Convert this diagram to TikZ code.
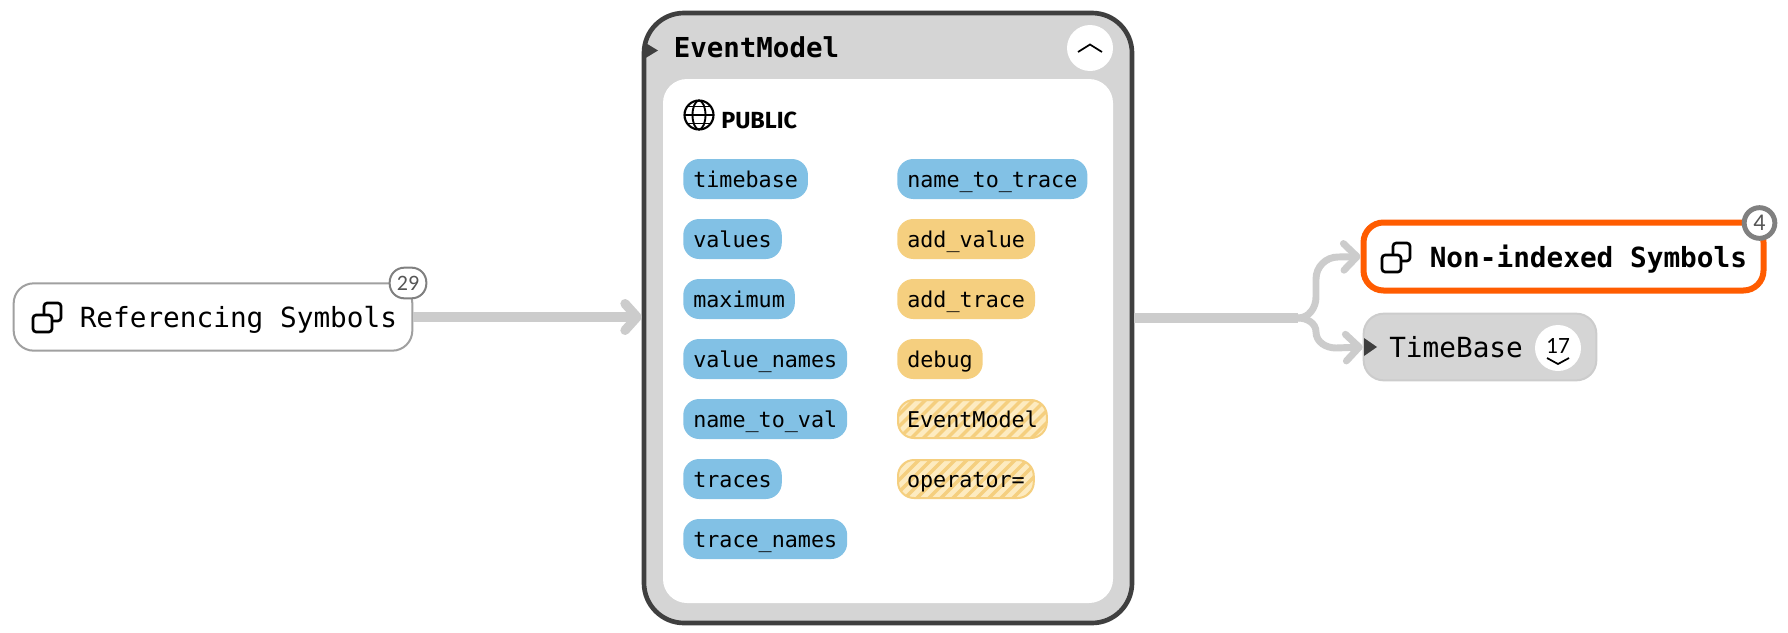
\documentclass[tikz,border=0pt]{standalone}
\usepackage{fontspec}
\usetikzlibrary{arrows.meta,calc}
\setmainfont{Fira Sans}
\newfontfamily\codefont{DejaVu Sans Mono}
\newfontfamily\numfont{Carlito}
\definecolor{grayfill}{HTML}{D5D5D5}
\definecolor{darkedge}{HTML}{3F3F3F}
\definecolor{wirecol}{HTML}{CCCCCC}
\definecolor{chipblue}{HTML}{82C1E5}
\definecolor{chipgold}{HTML}{F5CF7F}
\definecolor{chiplight}{HTML}{FDEBC0}
\definecolor{hotorange}{HTML}{FF5C00}
\definecolor{badgeedge}{HTML}{808080}
\definecolor{softedge}{HTML}{A0A0A0}
\definecolor{numcol}{HTML}{555555}
\tikzset{
  x=0.75pt,y=-0.75pt,
  chipbase/.style={anchor=west,rounded corners=12pt,minimum height=30pt,inner xsep=7.5pt,inner ysep=0pt,
    font=\codefont\fontsize{16.3pt}{20pt}\selectfont,text height=14pt,text depth=1.3pt},
  bluechip/.style={chipbase,fill=chipblue},
  goldchip/.style={chipbase,fill=chipgold},
  hatchchip/.style={chipbase,draw=chipgold,line width=1.5pt,fill=chipgold,inner xsep=6.75pt,minimum height=28.5pt,
    path picture={
      \foreach \k in {-16,...,16}{
        \draw[chiplight,line width=3.6pt]
          ($(path picture bounding box.center)+(\k*12-60,60)$) -- ++(120,-120);
      }
    }},
  wire/.style={wirecol,line join=round},
  wirefat/.style={wire,line width=7.5pt},
  wirethin/.style={wire,line width=5.2pt},
  tipfat/.style={-{Straight Barb[round,length=9pt,width=20pt,line width=7pt]}},
  tipthin/.style={-{Straight Barb[round,length=10pt,width=20pt,line width=5.2pt]}},
  symnode/.style={rounded corners=15pt,fill=white,inner sep=0pt},
  labeltext/.style={anchor=west,inner sep=0pt,font=\codefont\fontsize{20.8pt}{24pt}\selectfont,text height=17.6pt,text depth=2.4pt},
  symicon/.pic={
    \draw[black,line width=2pt,rounded corners=2.4pt]
      (7,3) -- (7,-9) -- (24,-9) -- (24,9) -- (14,9);
    \draw[black,line width=2pt,rounded corners=2.4pt,fill=white]
      (-4,3) rectangle (15,20);
  }
}
\begin{document}
\begin{tikzpicture}
\useasboundingbox (0,0) rectangle (1788,632);
\fill[white] (0,0) rectangle (1788,632);

% nodes
\node[symnode,draw=softedge,line width=1.5pt,minimum width=299pt,minimum height=50.5pt] (ref) at (213,317) {};
\node[rounded corners=30pt,draw=darkedge,fill=grayfill,line width=3.5pt,minimum width=366pt,minimum height=457.5pt,inner sep=0pt] (model) at (888,318) {};
\node[symnode,draw=hotorange,line width=4.5pt,minimum width=300pt,minimum height=51pt] (non) at (1563.5,256.5) {};
\node[rounded corners=15pt,fill=grayfill,draw=wirecol,line width=1.5pt,minimum width=174.5pt,minimum height=50pt,inner sep=0pt] (tb) at (1480,347) {};

% connectors
\draw[wirefat,tipfat] (ref.east) -- (ref.east -| model.west);
\coordinate (fork) at (1298,318);
\draw[wirefat] (model.east) -- (fork);
\draw[wirethin,tipthin,line cap=round] (fork) to[out=0,in=-90] (1316,297) -- (1316,279) to[out=90,in=180] (1338,257) -- (non.west);
\draw[wirethin,tipthin,line cap=round] (fork) to[out=0,in=90] (1316,332) to[out=-90,in=180] (1336,348) -- (tb.west);

% left node content
\pic at (37,312) {symicon};
\node[labeltext] (reftext) at (79.5,317) {Referencing Symbols};
\node[rounded corners=11pt,draw=badgeedge,line width=1.5pt,fill=white,minimum width=27.5pt,minimum height=23pt,inner sep=0pt,font=\numfont\fontsize{16.5pt}{18pt}\selectfont,text=numcol] (refbadge) at (408,283) {29};

% model header
\node[anchor=west,inner sep=0pt,font=\codefont\bfseries\fontsize{20.6pt}{24pt}\selectfont,text height=17.6pt,text depth=2.4pt] (modeltitle) at (673.5,47) {EventModel};
\fill[darkedge] (644,42) -- (658,50.5) -- (644,59) -- cycle;
\node[circle,fill=white,minimum size=34.5pt,inner sep=0pt] (collapse) at (1090,48) {};
\draw[black,line width=1.3pt] (1078,52) -- (1090,44.5) -- (1102,52);

% inner panel
\node[rounded corners=18pt,fill=white,minimum width=337.5pt,minimum height=393pt,inner sep=0pt] (panel) at (888,341) {};

% globe
\coordinate (globe) at (699,115);
\draw[black,line width=1.6pt] (globe) circle[radius=14.5];
\draw[black,line width=1.4pt] (globe) ellipse[x radius=6.5,y radius=14.5];
\draw[black,line width=1.4pt] (684.5,115) -- (713.5,115);
\draw[black,line width=1.4pt] (687,106.5) -- (711,106.5);
\draw[black,line width=1.4pt] (687,123.5) -- (711,123.5);
\node[anchor=west,inner sep=0pt,font=\bfseries\fontsize{17.5pt}{20pt}\selectfont,text height=13pt,text depth=0pt] (pubtext) at (721,120) {PUBLIC};

% chips
\node[bluechip] (c1) at (683,179) {timebase};
\node[bluechip] (c2) at (683,239) {values};
\node[bluechip] (c3) at (683,299) {maximum};
\node[bluechip] (c4) at (683,359) {value\_names};
\node[bluechip] (c5) at (683,419) {name\_to\_val};
\node[bluechip] (c6) at (683,479) {traces};
\node[bluechip] (c7) at (683,539) {trace\_names};
\node[bluechip] (d1) at (897,179) {name\_to\_trace};
\node[goldchip] (d2) at (897,239) {add\_value};
\node[goldchip] (d3) at (897,299) {add\_trace};
\node[goldchip] (d4) at (897,359) {debug};
\node[hatchchip] (d5) at (897,419) {EventModel};
\node[hatchchip] (d6) at (897,479) {operator=};

% right node content
\pic at (1386,252) {symicon};
\node[labeltext,font=\codefont\bfseries\fontsize{20.8pt}{24pt}\selectfont] (nontext) at (1429.5,257) {Non-indexed Symbols};
\node[circle,draw=badgeedge,line width=3.7pt,fill=white,minimum size=23pt,inner sep=0pt,font=\numfont\fontsize{18pt}{18pt}\selectfont,text=numcol] (nonbadge) at (1759.5,223) {4};

\fill[darkedge] (1364,338) -- (1377,347) -- (1364,356) -- cycle;
\node[labeltext] (tbtext) at (1389,347) {TimeBase};
\node[circle,fill=white,minimum size=34.5pt,inner sep=0pt] (tbcount) at (1558,348) {};
\node[inner sep=0pt,font=\numfont\fontsize{17.5pt}{18pt}\selectfont] (tbnum) at (1558,346) {17};
\draw[black,line width=1.3pt] (1547,358) -- (1558,364) -- (1569,358);
\end{tikzpicture}
\end{document}
